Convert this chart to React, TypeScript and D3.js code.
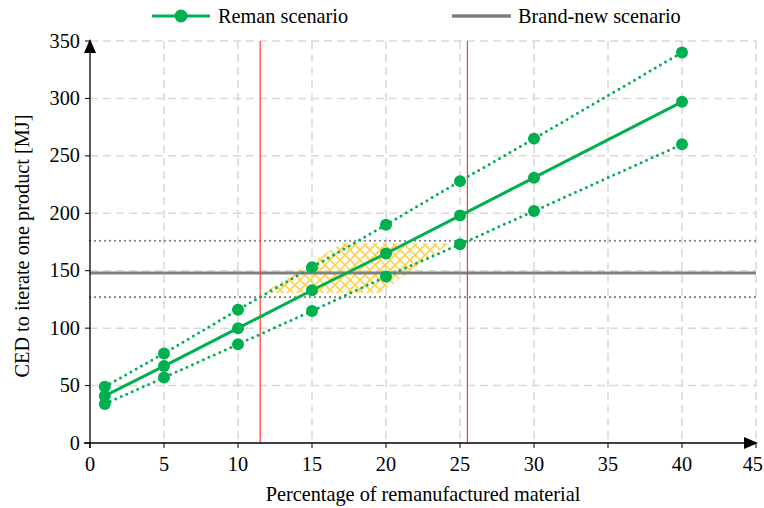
import React from "react";
import * as d3 from "d3";

const xs = [1, 5, 10, 15, 20, 25, 30, 40];
const reman = [41, 67, 100, 133, 165, 198, 231, 297];
const remanUpper = [49, 78, 116, 153, 190, 228, 265, 340];
const remanLower = [34, 57, 86, 115, 145, 173, 202, 260];
const brandNew = 148;
const brandNewUpper = 176;
const brandNewLower = 127;
const breakEvenX = [11.5, 25.5];
const hatchX = [11.7, 17.0, 24.3, 19.6];
const hatchY = [130.5, 174, 174, 130.5];
const xTicks = [0, 5, 10, 15, 20, 25, 30, 35, 40, 45];
const yTicks = [0, 50, 100, 150, 200, 250, 300, 350];

const W = 764, H = 508;
const FONT = "Liberation Serif, Times New Roman, DejaVu Serif, serif";
const GREEN = "#00b050";
const FS = 20.3;

export default function App() {
  const x = d3.scaleLinear().domain([0, 45]).range([90, 756]);
  const y = d3.scaleLinear().domain([0, 350]).range([443, 41]);
  const line = d3.line<number>().x((_, i) => x(xs[i])).y((d) => y(d));
  const hatchPts = hatchX.map((hx, i) => [x(hx), y(hatchY[i])] as [number, number]);
  const hatchPath = d3.line()(hatchPts.concat([hatchPts[0]])) || "";
  const ts = { fontFamily: FONT, fontSize: FS } as React.CSSProperties;

  return (
    <svg width={W} height={H} style={{ position: "absolute", left: 0, top: 0, background: "#fff", fontFamily: FONT }}>
      <defs>
        <pattern id="hatch" width="10" height="10" patternUnits="userSpaceOnUse">
          <path d="M-1,-1 L11,11 M11,-1 L-1,11" stroke="#ffd24d" strokeWidth="1.6" />
        </pattern>
      </defs>
      {/* grid */}
      {xTicks.filter((t) => t > 0).map((t) => (
        <line key={"gx" + t} x1={x(t)} x2={x(t)} y1={y(350)} y2={y(0)} stroke="#d9d9d9" strokeWidth={1.5} strokeDasharray="8,5" />
      ))}
      {yTicks.filter((t) => t > 0).map((t) => (
        <line key={"gy" + t} x1={x(0)} x2={x(45)} y1={y(t)} y2={y(t)} stroke="#d9d9d9" strokeWidth={1.5} strokeDasharray="8,5" />
      ))}
      {/* hatch */}
      <path d={hatchPath} fill="url(#hatch)" stroke="none" />
      {/* brand-new lines */}
      <line x1={x(0)} x2={x(45)} y1={y(brandNew)} y2={y(brandNew)} stroke="#808080" strokeWidth={3} />
      <line x1={x(0)} x2={x(45)} y1={y(brandNewUpper)} y2={y(brandNewUpper)} stroke="#7f7f7f" strokeWidth={2.2} strokeDasharray="0,5" strokeLinecap="round" />
      <line x1={x(0)} x2={x(45)} y1={y(brandNewLower)} y2={y(brandNewLower)} stroke="#7f7f7f" strokeWidth={2.2} strokeDasharray="0,5" strokeLinecap="round" />
      {/* red lines */}
      {breakEvenX.map((bx) => (
        <line key={"r" + bx} x1={x(bx)} x2={x(bx)} y1={y(350)} y2={y(0)} stroke="#ff3b3b" strokeWidth={1.2} />
      ))}
      {/* reman */}
      <path d={line(remanUpper) || ""} fill="none" stroke={GREEN} strokeWidth={3} strokeDasharray="0,6" strokeLinecap="round" />
      <path d={line(remanLower) || ""} fill="none" stroke={GREEN} strokeWidth={3} strokeDasharray="0,6" strokeLinecap="round" />
      <path d={line(reman) || ""} fill="none" stroke={GREEN} strokeWidth={3} />
      {[remanUpper, remanLower, reman].map((arr, k) =>
        arr.map((v, i) => <circle key={k + "-" + i} cx={x(xs[i])} cy={y(v)} r={6} fill={GREEN} />)
      )}
      {/* axes */}
      <line x1={84} x2={x(45) - 8} y1={y(0)} y2={y(0)} stroke="#000" strokeWidth={1.3} />
      <path d={`M${x(45) - 12},${y(0) - 6} L${x(45) + 2},${y(0)} L${x(45) - 12},${y(0) + 6} Z`} fill="#000" />
      <line x1={x(0)} x2={x(0)} y1={y(0) + 5} y2={y(350) + 8} stroke="#000" strokeWidth={1.3} />
      <path d={`M${x(0) - 6},${y(350) + 12} L${x(0)},${y(350) - 2} L${x(0) + 6},${y(350) + 12} Z`} fill="#000" />
      {xTicks.map((t) => (
        <g key={"xt" + t}>
          <line x1={x(t)} x2={x(t)} y1={y(0)} y2={y(0) + 5} stroke="#000" strokeWidth={1} />
          <text x={t === 45 ? 763 : x(t)} y={y(0) + 28} textAnchor={t === 45 ? "end" : "middle"} style={ts} fill="#000">{t}</text>
        </g>
      ))}
      {yTicks.map((t) => (
        <g key={"yt" + t}>
          <line x1={x(0) - 5} x2={x(0)} y1={y(t)} y2={y(t)} stroke="#000" strokeWidth={1} />
          <text x={x(0) - 10} y={y(t) + 6.5} textAnchor="end" style={ts} fill="#000">{t}</text>
        </g>
      ))}
      <text x={423} y={501} textAnchor="middle" style={ts} fill="#000">Percentage of remanufactured material</text>
      <text transform={`translate(29,${y(175) + 4}) rotate(-90)`} textAnchor="middle" style={ts} fill="#000">CED to iterate one product [MJ]</text>
      {/* legend */}
      <line x1={152} x2={210} y1={16} y2={16} stroke={GREEN} strokeWidth={3} />
      <circle cx={181} cy={16} r={6.5} fill={GREEN} />
      <text x={218} y={23} style={ts} fill="#000">Reman scenario</text>
      <line x1={452} x2={511} y1={16} y2={16} stroke="#808080" strokeWidth={3.5} />
      <text x={518} y={23} style={ts} fill="#000">Brand-new scenario</text>
    </svg>
  );
}
